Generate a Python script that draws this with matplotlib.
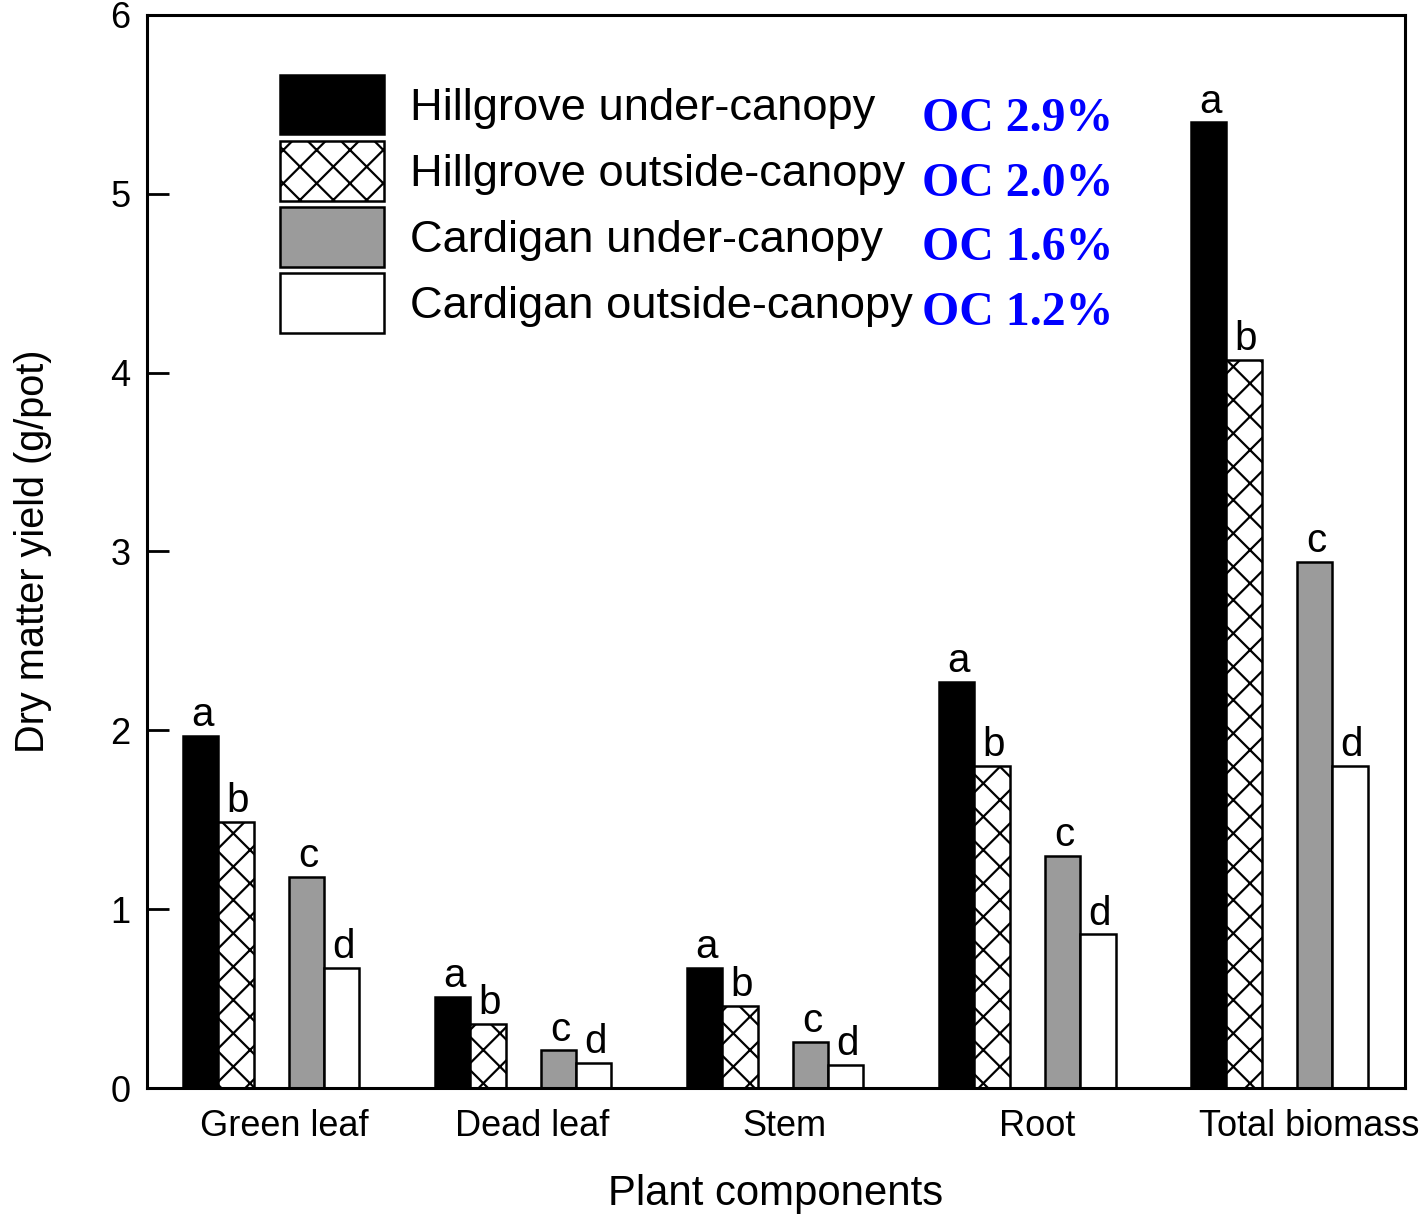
import numpy as np
import matplotlib
matplotlib.use("Agg")
import matplotlib.pyplot as plt

plt.rcParams["font.family"] = ["Liberation Sans", "DejaVu Sans"]
plt.rcParams["hatch.linewidth"] = 0.8

# dry matter yield per plant component (g/pot)
components = ["Green leaf", "Dead leaf", "Stem", "Root", "Total biomass"]
series = ["Hillgrove under-canopy", "Hillgrove outside-canopy",
          "Cardigan under-canopy", "Cardigan outside-canopy"]
hill_under = [1.97, 0.51, 0.67, 2.27, 5.40]
hill_outside = [1.49, 0.36, 0.46, 1.80, 4.07]
card_under = [1.18, 0.21, 0.26, 1.30, 2.94]
card_outside = [0.67, 0.14, 0.13, 0.86, 1.80]
letters = ["a", "b", "c", "d"]
oc_labels = ["OC 2.9%", "OC 2.0%", "OC 1.6%", "OC 1.2%"]

values = [hill_under, hill_outside, card_under, card_outside]
offsets = [-0.28, -0.14, 0.14, 0.28]
faces = ["black", "white", "#9b9b9b", "white"]
hatches = [None, "xx", None, None]
width = 0.14

fig = plt.figure(figsize=(7.115, 6.075), dpi=200)
ax = fig.add_axes([0.1033, 0.1045, 0.8841, 0.8832])

x = np.arange(len(components))
for vals, off, fc, h, lab, let in zip(values, offsets, faces, hatches, series, letters):
    bars = ax.bar(x + off, vals, width, color=fc, edgecolor="black",
                  linewidth=0.9, hatch=h, label=lab)
    for b, v in zip(bars, vals):
        ax.annotate(let, (b.get_x() + b.get_width() / 2, v),
                    xytext=(0.5, 3.5), textcoords="offset points",
                    ha="center", va="baseline", fontsize=14.5)

ax.set_xlim(-0.493, 4.499)
ax.set_ylim(0, 6)
ax.set_yticks(range(7))
ax.tick_params(axis="y", direction="in", length=7.9, width=1.0,
               pad=6, labelsize=13)
label_shift = [0.05, 0.035, 0.035, 0.04, 0.12]
ax.set_xticks(x + np.array(label_shift))
ax.set_xticklabels(components)
ax.tick_params(axis="x", length=0, pad=7.5, labelsize=13)
for s in ax.spines.values():
    s.set_linewidth(1.1)

ax.set_ylabel("Dry matter yield (g/pot)", fontsize=14.3)
ax.yaxis.set_label_coords(-0.0755, 0.5)
ax.set_xlabel("Plant components", fontsize=15.1, va="top")
ax.xaxis.set_label_coords(0.5, -0.080)

ax.legend(loc="upper left", bbox_to_anchor=(0.1057, 0.944), frameon=False,
          fontsize=16.3, handlelength=2.3, handleheight=1.64,
          labelspacing=0.15, handletextpad=0.58, borderpad=0,
          borderaxespad=0)

# organic carbon of each soil, next to the legend rows
for i, t in enumerate(oc_labels):
    ax.text(0.616, 0.903 - 0.0603 * i, t, transform=ax.transAxes,
            ha="left", va="center", fontsize=17.2, fontweight="bold",
            color="#0000ff", family=["Liberation Serif", "DejaVu Serif"])

fig.savefig("out.png", dpi=200)
